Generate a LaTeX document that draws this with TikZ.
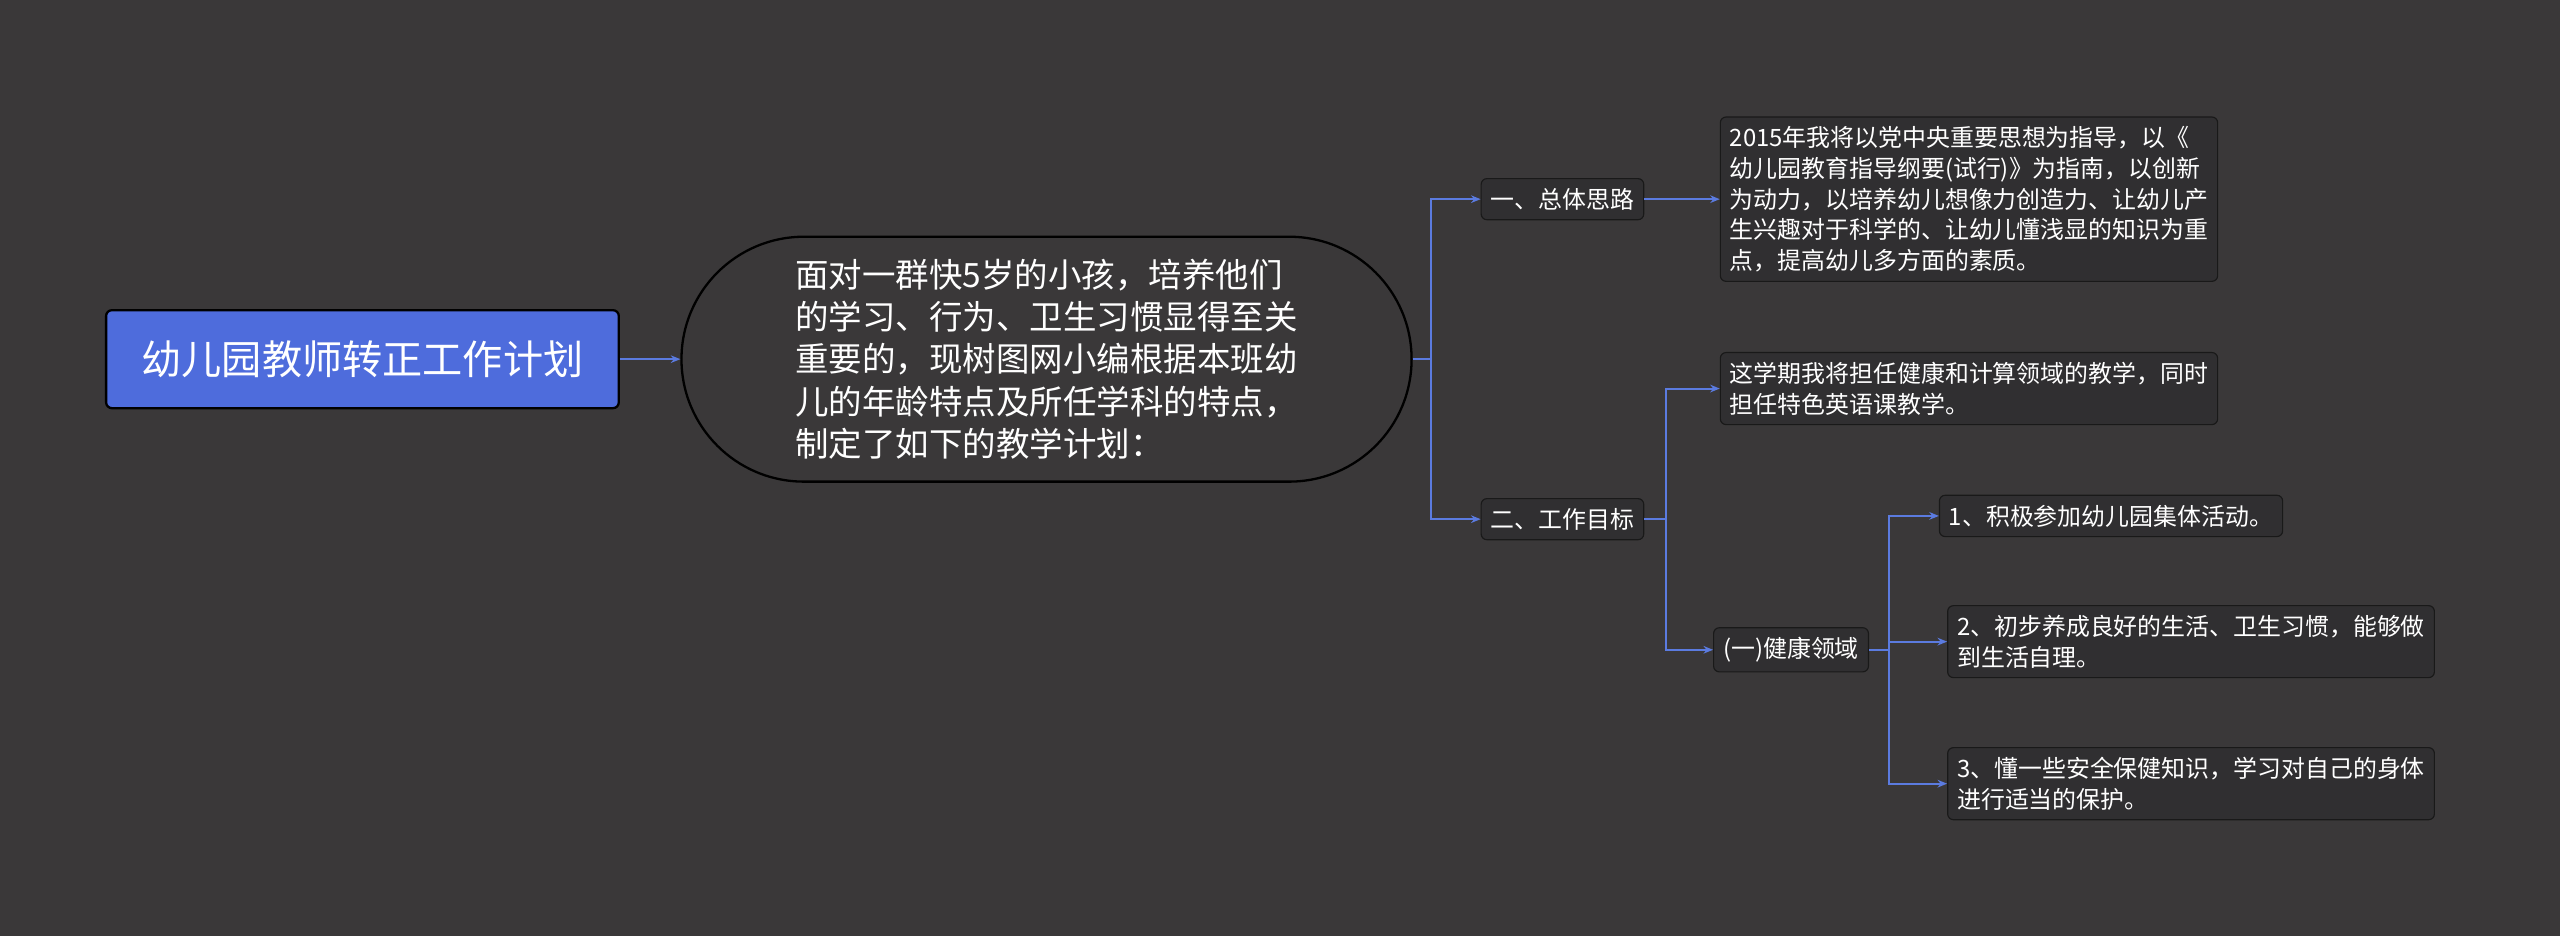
\documentclass[tikz,border=0pt]{standalone}
\usepackage{fontspec}
\setmainfont{Noto Sans CJK SC}
\usetikzlibrary{shapes.misc,arrows.meta}
\definecolor{bgcol}{HTML}{3A3839}
\definecolor{boxcol}{HTML}{302F31}
\definecolor{linecol}{HTML}{5B7BE0}
\definecolor{titlecol}{HTML}{4E6CDC}
\tikzset{
  leaf/.style={draw=black!90,fill=boxcol,rounded corners=3pt,text=white,align=left,
    font=\fontsize{12.5}{16}\selectfont,inner sep=5pt,line width=0.6pt},
  conn/.style={draw=linecol,line width=1pt,-{Stealth[length=5pt,width=4pt]}}
}
\begin{document}
\begin{tikzpicture}[x=0.03cm,y=-0.03cm]
  \fill[bgcol] (0,0) rectangle (1568,573);
  % root and theme
  \node[draw=black,line width=1.2pt,fill=titlecol,rounded corners=3pt,text=white,
    minimum width=314*0.03cm,minimum height=60*0.03cm,font=\fontsize{21}{24}\selectfont]
    (title) at (222,220) {幼儿园教师转正工作计划};
  \node[rounded rectangle,draw=black,line width=1.2pt,fill=bgcol,text=white,
    minimum width=455*0.03cm,minimum height=150*0.03cm,align=left,
    font=\fontsize{17.5}{22}\selectfont] (theme) at (641,220)
    {面对一群快5岁的小孩，培养他们\\的学习、行为、卫生习惯显得至关\\重要的，现树图网小编根据本班幼\\儿的年龄特点及所任学科的特点，\\制定了如下的教学计划：};
  % branches
  \node[leaf] (plan) at (957,122) {一、总体思路};
  \node[leaf] (planTxt) at (1206,122) {2015年我将以党中央重要思想为指导，以《\\幼儿园教育指导纲要(试行)》为指南，以创新\\为动力，以培养幼儿想像力创造力、让幼儿产\\生兴趣对于科学的、让幼儿懂浅显的知识为重\\点，提高幼儿多方面的素质。};
  \node[leaf] (goal) at (957,318) {二、工作目标};
  \node[leaf] (goalTxt) at (1206,238) {这学期我将担任健康和计算领域的教学，同时\\担任特色英语课教学。};
  \node[leaf] (health) at (1097,398) {(一)健康领域};
  \node[leaf] (h1) at (1293,316) {1、积极参加幼儿园集体活动。};
  \node[leaf] (h2) at (1342,393) {2、初步养成良好的生活、卫生习惯，能够做\\到生活自理。};
  \node[leaf] (h3) at (1342,480) {3、懂一些安全保健知识，学习对自己的身体\\进行适当的保护。};
  % connectors
  \draw[conn] (title) -- (theme);
  \draw[conn] (theme.east) -- ++(11,0) |- (plan.west);
  \draw[conn] (theme.east) -- ++(11,0) |- (goal.west);
  \draw[conn] (plan) -- (planTxt);
  \draw[conn] (goal.east) -- ++(13,0) |- (goalTxt.west);
  \draw[conn] (goal.east) -- ++(13,0) |- (health.west);
  \draw[conn] (health.east) -- ++(12,0) |- (h1.west);
  \draw[conn] (health.east) -- ++(12,0) |- (h2.west);
  \draw[conn] (health.east) -- ++(12,0) |- (h3.west);
\end{tikzpicture}
\end{document}
